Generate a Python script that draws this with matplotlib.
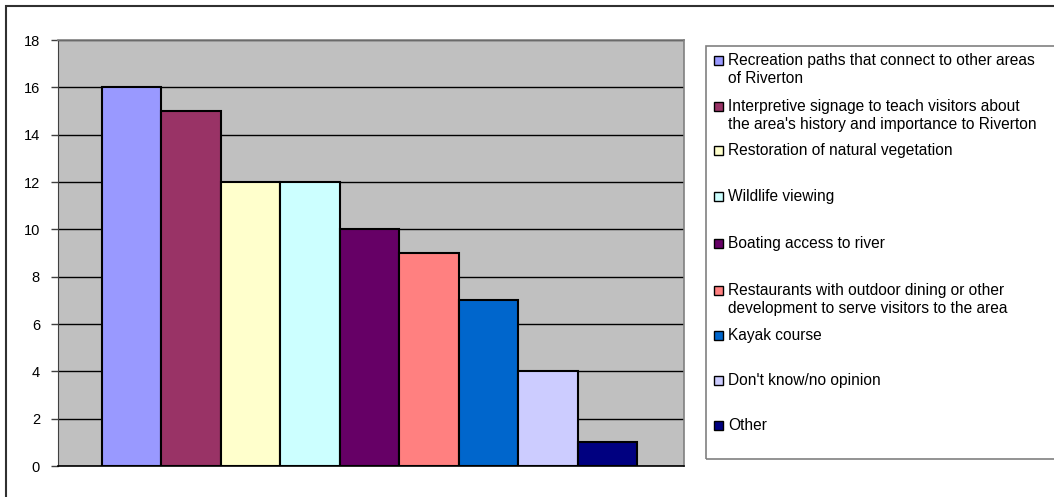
import matplotlib
matplotlib.use("Agg")
import matplotlib.pyplot as plt
from matplotlib.patches import Rectangle

plt.rcParams['font.family'] = ['Liberation Sans', 'DejaVu Sans']

categories = [
    "Recreation paths that connect to other areas\nof Riverton",
    "Interpretive signage to teach visitors about\nthe area's history and importance to Riverton",
    "Restoration of natural vegetation",
    "Wildlife viewing",
    "Boating access to river",
    "Restaurants with outdoor dining or other\ndevelopment to serve visitors to the area",
    "Kayak course",
    "Don't know/no opinion",
    "Other",
]
values = [16, 15, 12, 12, 10, 9, 7, 4, 1]
colors = ["#9999FF", "#993366", "#FFFFCC", "#CCFFFF", "#660066",
          "#FF8080", "#0066CC", "#CCCCFF", "#000080"]
yticks = [0, 2, 4, 6, 8, 10, 12, 14, 16, 18]

W, H = 1054, 497
fig = plt.figure(figsize=(W / 100, H / 100), dpi=100)
ax = fig.add_axes([58 / W, 1 - 466 / H, (684 - 58) / W, (466 - 40) / H])
ax.set_facecolor("#C0C0C0")

x = list(range(len(values)))
ax.bar(x, values, width=1.0, color=colors, edgecolor="black", linewidth=1.5, zorder=3)
ax.set_xlim(-1.24, 9.29)
ax.set_ylim(0, 18)
ax.set_yticks(yticks)
ax.set_yticklabels([str(t) for t in yticks], fontsize=10.5)
ax.set_xticks([])
ax.yaxis.grid(True, color="black", linewidth=1.0, zorder=1)
ax.set_axisbelow(True)
ax.tick_params(axis="y", direction="out", length=5, width=1, color="#404040", pad=8)
for s in ["top", "right"]:
    ax.spines[s].set_color("#808080")
    ax.spines[s].set_linewidth(1.2)
ax.spines["left"].set_color("#404040")
ax.spines["bottom"].set_color("black")
ax.spines["bottom"].set_linewidth(1.2)

# outer chart frame
fig.patches.append(Rectangle((6 / W, -0.2), 1.2, 1.2 - 6 / H, transform=fig.transFigure,
                             fill=False, edgecolor="#303030", linewidth=1.5, clip_on=False))
# legend box
fig.patches.append(Rectangle((706 / W, 1 - 459 / H), 1.0, (459 - 46) / H,
                             transform=fig.transFigure, fill=False,
                             edgecolor="#808080", linewidth=1.2, clip_on=False))

centers = [60, 106, 150, 196, 243, 290, 335, 380, 425]
for lab, col, cy in zip(categories, colors, centers):
    fig.patches.append(Rectangle((714 / W, 1 - (cy + 4.5) / H), 9 / W, 9 / H,
                                 transform=fig.transFigure, facecolor=col,
                                 edgecolor="black", linewidth=1.0))
    fig.text(728 / W, 1 - (cy - 7) / H, lab, fontsize=11.2, va="top", ha="left",
             linespacing=1.25)

fig.savefig("out.png", dpi=100, facecolor="white")
